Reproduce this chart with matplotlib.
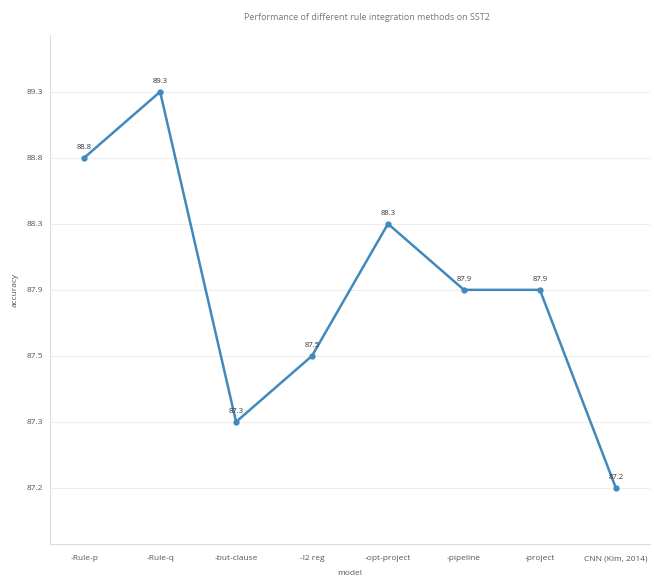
import matplotlib
matplotlib.use("Agg")
import matplotlib.pyplot as plt

plt.rcParams['font.family'] = ['Open Sans', 'DejaVu Sans']

# dane z wykresu
models = ['-Rule-p', '-Rule-q', '-but-clause', '-l2 reg', '-opt-project',
          '-pipeline', '-project', 'CNN (Kim, 2014)']
accuracy = [88.8, 89.3, 87.3, 87.5, 88.3, 87.9, 87.9, 87.2]

# oś y jest kategoryczna (równe odstępy między wartościami)
levels = sorted(set(accuracy))
ypos = [levels.index(v) for v in accuracy]
xpos = list(range(len(models)))

fig = plt.figure(figsize=(6.54, 5.81), dpi=100)
ax = fig.add_axes([50 / 654, (581 - 544) / 581, 600 / 654, (544 - 35) / 581])

ax.plot(xpos, ypos, color='#4189bd', linewidth=1.8, marker='o', markersize=3.5,
        zorder=3)
for x, y, v in zip(xpos, ypos, accuracy):
    ax.text(x, y + 0.1, f'{v}', ha='center', va='bottom', fontsize=5.5,
            color='#333333')

ax.set_xticks(xpos)
ax.set_xticklabels(models)
ax.set_yticks(range(len(levels)))
ax.set_yticklabels([f'{v}' for v in levels])
ax.set_xlim(-0.45, 7.45)
ax.set_ylim(-0.85, 6.86)

ax.grid(axis='y', color='#eeeeee', linewidth=0.8)
ax.set_axisbelow(True)
for s in ['top', 'right']:
    ax.spines[s].set_visible(False)
for s in ['left', 'bottom']:
    ax.spines[s].set_color('#dddddd')
ax.tick_params(length=0, labelsize=6, colors='#555555')
ax.tick_params(axis='x', pad=8)
ax.tick_params(axis='y', pad=5)

ax.set_xlabel('model', fontsize=6, color='#555555', labelpad=6)
ax.set_ylabel('accuracy', fontsize=6, color='#555555', labelpad=6)
fig.text(367 / 654, 1 - 17 / 581, 'Performance of different rule integration methods on SST2',
         ha='center', va='center', fontsize=6.5, color='#777777')

fig.savefig('out.png', dpi=100)
